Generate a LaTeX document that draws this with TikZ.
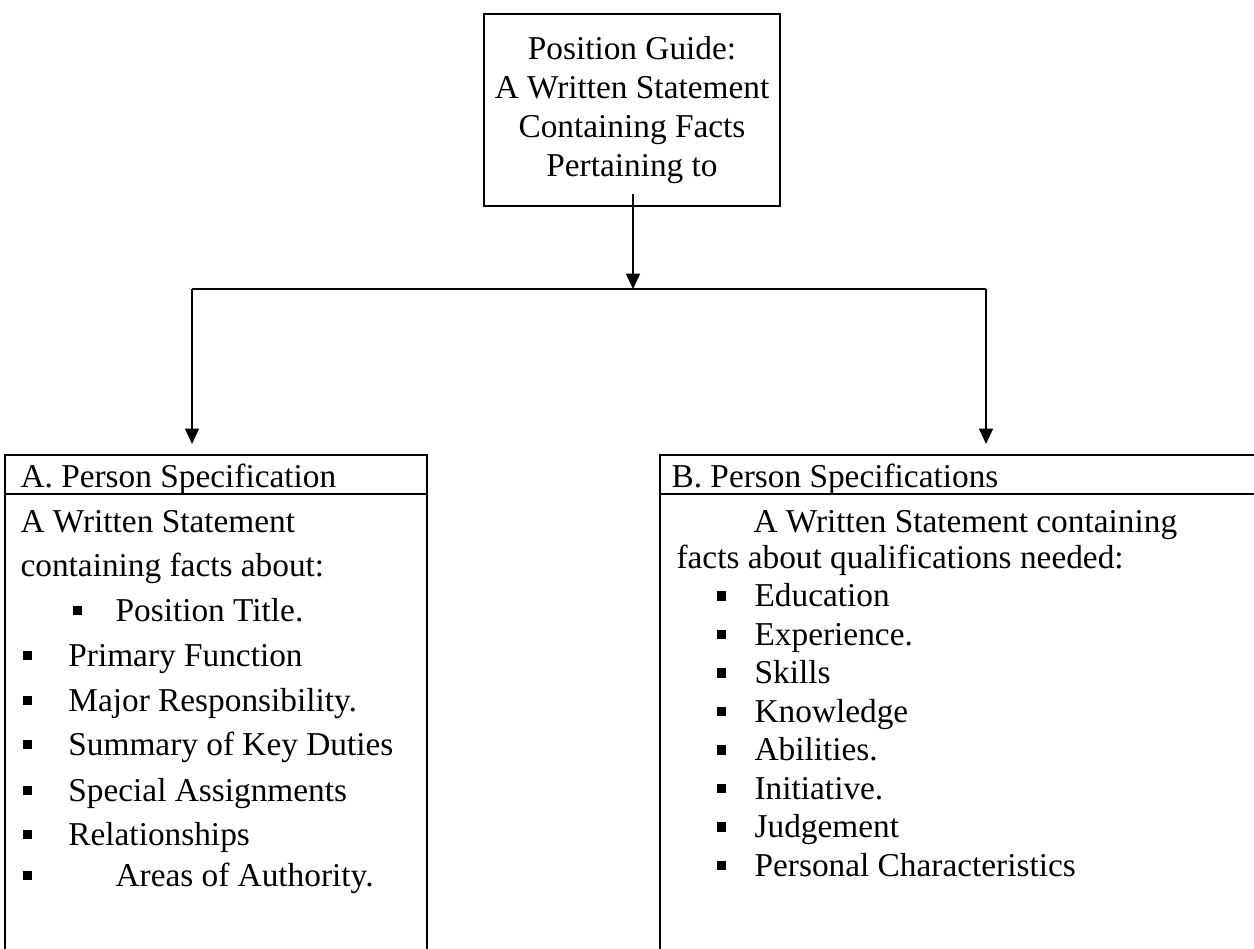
\documentclass[tikz,border=0pt]{standalone}
\usepackage{fontspec}
\setmainfont{Liberation Serif}
\usetikzlibrary{arrows.meta,fit,calc}
% small filled square used as list bullet; #1 = distance from bullet to text
\newcommand\sqbullet[1]{\makebox[#1][l]{\rule[2.1pt]{3.4pt}{3.4pt}}}
\begin{document}
\begin{tikzpicture}[x=0.36pt,y=-0.36pt,
  frame/.style={draw=black,line width=0.8pt,inner sep=0pt},
  link/.style={draw=black,line width=0.65pt},
  arrowlink/.style={link,-{Triangle[width=5pt,length=5.5pt]}},
  txt/.style={inner sep=0pt,anchor=base west,font=\fontsize{12}{14}\selectfont},
]
\useasboundingbox (0,0) rectangle (1254,948);
\clip (0,0) rectangle (1254,948);
\fill[white] (0,0) rectangle (1254,948);

% heading box
\node[frame, minimum width=106.6pt, minimum height=69.1pt, align=center,
      font=\fontsize{12}{14.04}\selectfont] (guide) at (632,110)
  {Position Guide:\\A Written Statement\\Containing Facts\\Pertaining to};

% the two specification boxes (running past the page edge)
\node[frame, fit={(5,455) (427,1010)}] (lbox) {};
\node[frame, fit={(660,455) (1300,1010)}] (rbox) {};
\draw[frame] ($(lbox.north west)+(0,40)$) -- ($(lbox.north east)+(0,40)$);
\draw[frame] ($(rbox.north west)+(0,40)$) -- ($(rbox.north east)+(0,40)$);

% connectors
\coordinate (stem) at ($(guide.south)+(1,-13)$);
\coordinate (hub)  at (stem |- 0,289);
\coordinate (busL) at (192,289);
\coordinate (busR) at (986,289);
\coordinate (tipL) at ($(busL |- lbox.north)+(0,-10)$);
\coordinate (tipR) at ($(busR |- rbox.north)+(0,-10)$);
\draw[arrowlink] (stem) -- (hub);
\draw[link] (busL) -- (busR);
\draw[arrowlink] (busL) -- (tipL);
\draw[arrowlink] (busR) -- (tipR);

% left box text
\node[txt] (lhead) at (20,487) {A. Person Specification};
\node[txt] (l1) at (20,532) {A Written Statement};
\node[txt] (l2) at (20,576) {containing facts about:};
\node[txt] (l3) at (72,621) {\sqbullet{15.5pt}Position Title.};
\node[txt] (l4) at (22,666) {\sqbullet{16.5pt}Primary Function};
\node[txt] (l5) at (22,711) {\sqbullet{16.5pt}Major Responsibility.};
\node[txt] (l6) at (22,755) {\sqbullet{16.5pt}Summary of Key Duties};
\node[txt] (l7) at (22,801) {\sqbullet{16.5pt}Special Assignments};
\node[txt] (l8) at (22,845) {\sqbullet{16.5pt}Relationships};
\node[txt] (l9) at (22,886) {\sqbullet{33.5pt}Areas of Authority.};

% right box text
\node[txt] (rhead) at (671,487) {B. Person Specifications};
\node[txt] (r1) at (753,532) {A Written Statement containing};
\node[txt] (r2) at (676,568) {facts about qualifications needed:};
\foreach \t [count=\i] in {Education,Experience.,Skills,Knowledge,Abilities.,Initiative.,Judgement,Personal Characteristics}
  \node[txt] (q\i) at (716,{568+38.5*\i}) {\sqbullet{13.7pt}\t};
\end{tikzpicture}
\end{document}
